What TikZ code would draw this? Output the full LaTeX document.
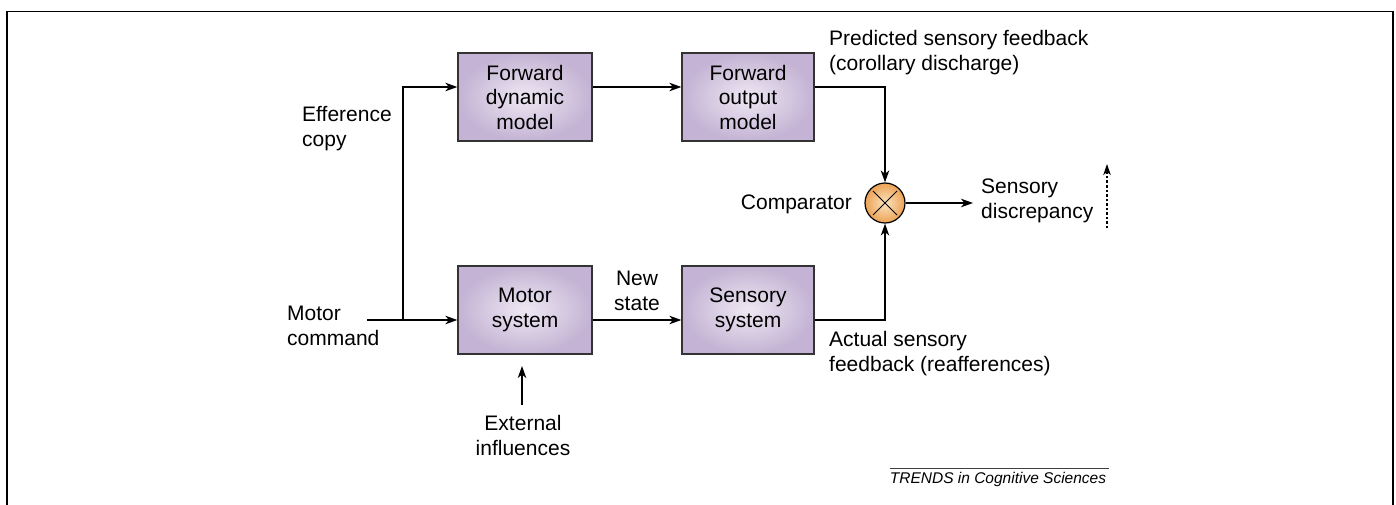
\documentclass[tikz,border=0pt]{standalone}
\usepackage{fontspec}
\setmainfont{Liberation Sans}
\usetikzlibrary{arrows.meta,positioning}
\definecolor{boxin}{HTML}{EEE8F3}
\definecolor{boxout}{HTML}{C4B3D4}
\definecolor{boxline}{HTML}{333333}
\definecolor{cmpin}{HTML}{FCE3BF}
\definecolor{cmpout}{HTML}{EBA255}
\tikzset{
  blk/.style={draw=boxline,line width=1.3pt,shading=radial,inner color=boxin,outer color=boxout,
    minimum height=88pt,align=center,inner sep=0pt,font=\fontsize{21}{24.5}\selectfont},
  lbl/.style={inner sep=0pt,font=\fontsize{21}{25}\selectfont},
  arr/.style={line width=1.3pt,-{Stealth[length=12pt,width=8.5pt,inset=3.5pt]}},
  ln/.style={line width=1.3pt},
  cmp/.style={circle,draw=black,line width=1.2pt,minimum size=40pt,inner sep=0pt,
    shading=radial,inner color=cmpin,outer color=cmpout},
}
\begin{document}
\begin{tikzpicture}[x=1pt,y=-1pt]
\useasboundingbox (0,0) rectangle (1396,505);
% frame
\draw[line width=1.5pt] (7,505) -- (7,11.5) -- (1393,11.5) -- (1393,505);
% blocks
\node[blk,minimum width=134pt] (fdm) at (525,97) {Forward\\dynamic\\model};
\node[blk,minimum width=132pt] (fom) at (748,97) {Forward\\output\\model};
\node[blk,minimum width=134pt] (ms) at (525,310) {Motor\\system};
\node[blk,minimum width=132pt] (ss) at (748,310) {Sensory\\system};
\node[cmp] (cmp) at (885,203) {};
\draw[line width=0.9pt] ([shift={(-12pt,12pt)}]cmp.center) -- ([shift={(12pt,-12pt)}]cmp.center);
\draw[line width=0.9pt] ([shift={(-12pt,-12pt)}]cmp.center) -- ([shift={(12pt,12pt)}]cmp.center);
% coordinates
\coordinate (mc) at (367,320);
\coordinate (jn) at (403,320);
\coordinate (sd) at (973,203);
\coordinate (exs) at (522,405);
\coordinate (exe) at (522,366);
\coordinate (dots) at (1107,228);
\coordinate (dote) at (1107,164);
% connectors
\draw[ln] (mc) -- (jn);
\draw[arr] (jn) -- ([yshift=-10pt]ms.west);
\draw[arr] (jn) |- ([yshift=10pt]fdm.west);
\draw[arr] ([yshift=10pt]fdm.east) -- ([yshift=10pt]fom.west);
\draw[arr] ([yshift=-10pt]ms.east) -- ([yshift=-10pt]ss.east -| ss.west);
\draw[arr] ([yshift=10pt]fom.east) -| (cmp.north);
\draw[arr] ([yshift=-10pt]ss.east) -| (cmp.south);
\draw[arr] (cmp.east) -- (sd);
\draw[arr] (exs) -- (exe);
\draw[line width=1.2pt,dash pattern=on 2.5pt off 2pt,-{Stealth[length=11pt,width=7.5pt,inset=3pt]}] (dots) -- (dote);
% labels
\node[lbl,align=left,anchor=west] (ec) at (302,129) {Efference\\copy};
\node[lbl,align=left,anchor=west] (mcl) at (287,326) {Motor\\command};
\node[lbl,align=left,anchor=west] (psf) at (829,53) {Predicted sensory feedback\\(corollary discharge)};
\node[lbl,anchor=east] (cmpl) at (852,204) {Comparator};
\node[lbl,align=left,anchor=west] (sdl) at (981,201) {Sensory\\discrepancy};
\node[lbl,align=left,anchor=west] (asf) at (829,354) {Actual sensory\\feedback (reafferences)};
\node[lbl,align=center] (ns) at (637,291) {New\\state};
\node[lbl,align=center] (exl) at (523,435) {External\\influences};
% footer
\draw[line width=0.8pt,draw=black!75] (890,468) -- (1109,468);
\node[inner sep=0pt,font=\fontsize{15.5}{18}\selectfont\itshape] (tr) at (998,479.5) {TRENDS in Cognitive Sciences};
\end{tikzpicture}
\end{document}
